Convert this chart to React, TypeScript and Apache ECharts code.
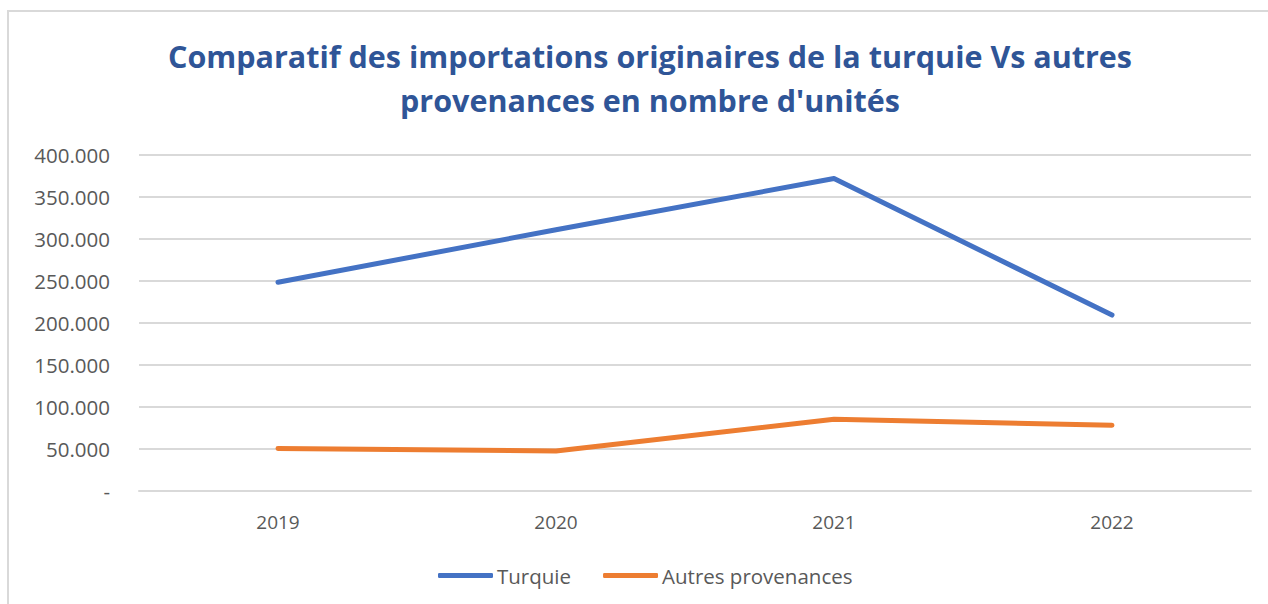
import React, { useEffect, useRef } from "react";
import * as echarts from "echarts";

const categories = ["2019", "2020", "2021", "2022"];
const turquie = [248500, 311000, 372000, 209500];
const autres = [50500, 47600, 85400, 78200];
const seriesNames = ["Turquie", "Autres provenances"];
const titleText =
  "Comparatif des importations originaires de la turquie Vs autres\nprovenances en nombre d'unités";

function formatTick(v: number): string {
  if (v === 0) return "-";
  return String(v).replace(/\B(?=(\d{3})+(?!\d))/g, ".");
}

export default function App() {
  const ref = useRef<HTMLDivElement>(null);
  useEffect(() => {
    document.body.style.margin = "0";
    const chart = echarts.init(ref.current!, undefined, { renderer: "svg" });
    chart.setOption({
      animation: false,
      backgroundColor: "#ffffff",
      graphic: [
        {
          type: "rect",
          shape: { x: 8, y: 11, width: 1400, height: 700 },
          style: { fill: "none", stroke: "#D9D9D9", lineWidth: 2 },
          silent: true,
          z: -1,
        },
      ],
      title: {
        text: titleText,
        left: 645,
        textAlign: "center",
        top: 29,
        textStyle: {
          fontFamily: "Open Sans",
          fontWeight: "bold",
          fontSize: 30.5,
          color: "#2F5597",
          lineHeight: 44,
        },
      },
      grid: { left: 139, right: 17, top: 155, bottom: 113 },
      xAxis: {
        type: "category",
        data: categories,
        boundaryGap: true,
        axisLine: { lineStyle: { color: "#D9D9D9", width: 2 } },
        axisTick: { show: false },
        axisLabel: {
          margin: 21,
          fontFamily: "Open Sans",
          fontSize: 19,
          color: "#595959",
        },
      },
      yAxis: {
        type: "value",
        min: 0,
        max: 400000,
        interval: 50000,
        axisLine: { show: false },
        axisTick: { show: false },
        splitLine: { lineStyle: { color: "#D9D9D9", width: 2 } },
        axisLabel: {
          margin: 29,
          fontFamily: "Open Sans",
          fontSize: 20.5,
          color: "#595959",
          formatter: (v: number) => formatTick(v),
        },
      },
      legend: {
        data: seriesNames,
        left: 433,
        top: 560,
        icon: "roundRect",
        itemWidth: 55,
        itemHeight: 5,
        itemGap: 32,
        textStyle: {
          fontFamily: "Open Sans",
          fontSize: 20.5,
          color: "#595959",
          padding: [0, 0, 0, -1],
        },
      },
      series: [
        {
          name: seriesNames[0],
          type: "line",
          data: turquie,
          showSymbol: false,
          symbol: "none",
          color: "#4472C4",
          lineStyle: { width: 5, color: "#4472C4", cap: "round", join: "round" },
        },
        {
          name: seriesNames[1],
          type: "line",
          data: autres,
          showSymbol: false,
          symbol: "none",
          color: "#ED7D31",
          lineStyle: { width: 5, color: "#ED7D31", cap: "round", join: "round" },
        },
      ],
    });
    return () => chart.dispose();
  }, []);
  return <div ref={ref} style={{ width: 1268, height: 604 }} />;
}
